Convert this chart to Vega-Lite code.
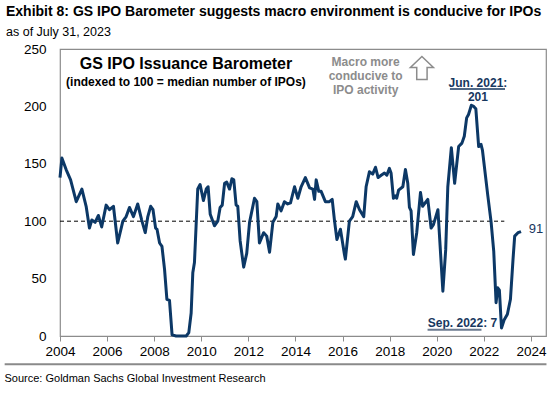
{
  "$schema": "https://vega.github.io/schema/vega-lite/v6.json",
  "width": 486,
  "height": 287,
  "autosize": {"type": "none"},
  "padding": {"left": 60, "top": 49, "right": 12, "bottom": 62},
  "background": "white",
  "config": {"font": "Liberation Sans", "view": {"stroke": "#8c8c8c", "strokeWidth": 1.2}},
  "title": {
    "text": "Exhibit 8: GS IPO Barometer suggests macro environment is conducive for IPOs",
    "subtitle": "as of July 31, 2023",
    "anchor": "start",
    "frame": "group",
    "dx": -54,
    "fontSize": 14,
    "fontWeight": "bold",
    "color": "black",
    "subtitleFontSize": 12.5,
    "subtitleColor": "black",
    "subtitlePadding": 7,
    "offset": 4
  },
  "datasets": {
    "ipo": [
      {"t":2004.00,"v":138},{"t":2004.08,"v":155},{"t":2004.26,"v":145},{"t":2004.45,"v":136},{"t":2004.69,"v":117},{"t":2004.93,"v":128},{"t":2005.11,"v":113},{"t":2005.25,"v":94},{"t":2005.35,"v":101},{"t":2005.49,"v":99},{"t":2005.63,"v":105},{"t":2005.77,"v":95},{"t":2005.96,"v":114},{"t":2006.10,"v":110},{"t":2006.27,"v":113},{"t":2006.45,"v":81},{"t":2006.67,"v":100},{"t":2006.81,"v":104},{"t":2006.95,"v":112},{"t":2007.12,"v":104},{"t":2007.30,"v":115},{"t":2007.47,"v":101},{"t":2007.62,"v":90},{"t":2007.73,"v":104},{"t":2007.85,"v":113},{"t":2007.95,"v":110},{"t":2008.06,"v":94},{"t":2008.12,"v":93},{"t":2008.23,"v":81},{"t":2008.33,"v":78},{"t":2008.44,"v":58},{"t":2008.54,"v":32},{"t":2008.65,"v":31},{"t":2008.76,"v":1},{"t":2008.93,"v":0},{"t":2009.36,"v":0},{"t":2009.47,"v":3},{"t":2009.57,"v":20},{"t":2009.64,"v":55},{"t":2009.71,"v":64},{"t":2009.78,"v":96},{"t":2009.85,"v":128},{"t":2009.95,"v":132},{"t":2010.09,"v":118},{"t":2010.21,"v":128},{"t":2010.29,"v":130},{"t":2010.38,"v":106},{"t":2010.56,"v":96},{"t":2010.70,"v":100},{"t":2010.80,"v":112},{"t":2010.89,"v":114},{"t":2010.99,"v":133},{"t":2011.08,"v":134},{"t":2011.20,"v":128},{"t":2011.30,"v":137},{"t":2011.38,"v":136},{"t":2011.48,"v":114},{"t":2011.55,"v":113},{"t":2011.65,"v":83},{"t":2011.80,"v":60},{"t":2011.93,"v":72},{"t":2012.05,"v":99},{"t":2012.26,"v":120},{"t":2012.36,"v":117},{"t":2012.47,"v":81},{"t":2012.65,"v":90},{"t":2012.78,"v":87},{"t":2012.90,"v":73},{"t":2013.04,"v":99},{"t":2013.18,"v":104},{"t":2013.25,"v":115},{"t":2013.39,"v":109},{"t":2013.53,"v":117},{"t":2013.67,"v":115},{"t":2013.79,"v":116},{"t":2013.96,"v":130},{"t":2014.10,"v":120},{"t":2014.24,"v":130},{"t":2014.42,"v":138},{"t":2014.60,"v":129},{"t":2014.74,"v":128},{"t":2014.81,"v":119},{"t":2014.88,"v":136},{"t":2014.99,"v":126},{"t":2015.09,"v":126},{"t":2015.27,"v":117},{"t":2015.44,"v":117},{"t":2015.56,"v":119},{"t":2015.66,"v":100},{"t":2015.76,"v":84},{"t":2015.91,"v":93},{"t":2016.08,"v":71},{"t":2016.12,"v":67},{"t":2016.29,"v":100},{"t":2016.43,"v":104},{"t":2016.58,"v":117},{"t":2016.72,"v":110},{"t":2016.90,"v":104},{"t":2017.00,"v":130},{"t":2017.14,"v":143},{"t":2017.28,"v":141},{"t":2017.40,"v":147},{"t":2017.51,"v":138},{"t":2017.64,"v":140},{"t":2017.78,"v":142},{"t":2017.88,"v":140},{"t":2017.99,"v":146},{"t":2018.06,"v":142},{"t":2018.16,"v":120},{"t":2018.24,"v":122},{"t":2018.30,"v":120},{"t":2018.38,"v":127},{"t":2018.56,"v":130},{"t":2018.67,"v":145},{"t":2018.77,"v":133},{"t":2018.84,"v":112},{"t":2018.91,"v":109},{"t":2019.01,"v":71},{"t":2019.15,"v":90},{"t":2019.31,"v":125},{"t":2019.40,"v":113},{"t":2019.62,"v":119},{"t":2019.76,"v":94},{"t":2019.86,"v":97},{"t":2020.05,"v":110},{"t":2020.26,"v":39},{"t":2020.38,"v":75},{"t":2020.47,"v":130},{"t":2020.62,"v":164},{"t":2020.76,"v":133},{"t":2020.93,"v":165},{"t":2021.07,"v":168},{"t":2021.17,"v":174},{"t":2021.27,"v":190},{"t":2021.35,"v":193},{"t":2021.41,"v":197},{"t":2021.47,"v":201},{"t":2021.57,"v":200},{"t":2021.66,"v":198},{"t":2021.78,"v":165},{"t":2021.88,"v":167},{"t":2021.94,"v":162},{"t":2022.17,"v":122},{"t":2022.31,"v":99},{"t":2022.42,"v":74},{"t":2022.52,"v":29},{"t":2022.59,"v":42},{"t":2022.66,"v":40},{"t":2022.75,"v":7},{"t":2022.86,"v":14},{"t":2023.00,"v":19},{"t":2023.13,"v":32},{"t":2023.24,"v":67},{"t":2023.31,"v":87},{"t":2023.45,"v":90},{"t":2023.58,"v":91}
    ],
    "one": [{}]
  },
  "layer": [
    {
      "data": {"name": "one"},
      "mark": {"type": "rule", "strokeDash": [4, 3], "color": "black", "strokeWidth": 1},
      "encoding": {
        "x": {
          "datum": 2004,
          "type": "quantitative",
          "scale": {"domain": [2004, 2024.64], "nice": false, "zero": false},
          "axis": {
            "values": [2004, 2006, 2008, 2010, 2012, 2014, 2016, 2018, 2020, 2022, 2024],
            "format": "d",
            "grid": false,
            "domain": false,
            "tickColor": "#8c8c8c",
            "tickSize": 5,
            "labelFontSize": 13.5,
            "labelColor": "black",
            "labelPadding": 3,
            "labelFlush": false,
            "labelOverlap": false,
            "title": "Source: Goldman Sachs Global Investment Research",
            "titleAnchor": "start",
            "titleAlign": "left",
            "titleX": -56,
            "titleY": 45,
            "titleFontSize": 11,
            "titleFontWeight": "normal",
            "titleColor": "black",
            "titleBaseline": "alphabetic"
          }
        },
        "x2": {"datum": 2022.87},
        "y": {
          "datum": 100,
          "type": "quantitative",
          "scale": {"domain": [0, 250], "nice": false},
          "axis": {
            "values": [0, 50, 100, 150, 200, 250],
            "grid": false,
            "domain": false,
            "ticks": false,
            "labelPadding": 14,
            "labelFontSize": 13.5,
            "labelColor": "black",
            "title": null
          }
        }
      }
    },
    {
      "data": {"name": "ipo"},
      "mark": {"type": "line", "color": "#0c3866", "strokeWidth": 3, "strokeJoin": "round"},
      "encoding": {
        "x": {"field": "t", "type": "quantitative"},
        "y": {"field": "v", "type": "quantitative"}
      }
    },
    {
      "data": {"name": "one"},
      "mark": {"type": "text", "text": "GS IPO Issuance Barometer", "fontSize": 16, "fontWeight": "bold", "color": "black", "align": "center", "baseline": "middle"},
      "encoding": {"x": {"datum": 2009.35}, "y": {"datum": 236.5}}
    },
    {
      "data": {"name": "one"},
      "mark": {"type": "text", "text": "(indexed to 100 = median number of IPOs)", "fontSize": 12, "fontWeight": "bold", "color": "black", "align": "center", "baseline": "middle"},
      "encoding": {"x": {"datum": 2009.35}, "y": {"datum": 221.1}}
    },
    {
      "data": {"name": "one"},
      "mark": {"type": "text", "text": ["Macro more", "conducive to", "IPO activity"], "fontSize": 12, "fontWeight": "bold", "color": "#8c8c8c", "align": "center", "baseline": "middle", "lineHeight": 14},
      "encoding": {"x": {"datum": 2016.98}, "y": {"datum": 239.1}}
    },
    {
      "data": {"name": "one"},
      "mark": {"type": "point", "shape": "M0,-1 L1,-0.05 L0.45,-0.05 L0.45,1 L-0.45,1 L-0.45,-0.05 L-1,-0.05 Z", "filled": false, "stroke": "#8c8c8c", "strokeWidth": 1.5, "size": 530, "opacity": 1},
      "encoding": {"x": {"datum": 2019.37}, "y": {"datum": 233.4}}
    },
    {
      "data": {"name": "one"},
      "mark": {"type": "text", "text": "Jun. 2021:", "fontSize": 12, "fontWeight": "bold", "color": "#17375e", "align": "center", "baseline": "middle"},
      "encoding": {"x": {"datum": 2021.75}, "y": {"datum": 220.8}}
    },
    {
      "data": {"name": "one"},
      "mark": {"type": "rule", "color": "#17375e", "strokeWidth": 1.5},
      "encoding": {"x": {"datum": 2020.56}, "x2": {"datum": 2022.9}, "y": {"datum": 215.1}}
    },
    {
      "data": {"name": "one"},
      "mark": {"type": "text", "text": "201", "fontSize": 12, "fontWeight": "bold", "color": "#17375e", "align": "center", "baseline": "middle"},
      "encoding": {"x": {"datum": 2021.75}, "y": {"datum": 208.6}}
    },
    {
      "data": {"name": "one"},
      "mark": {"type": "text", "text": "Sep. 2022: 7", "fontSize": 12, "fontWeight": "bold", "color": "#17375e", "align": "left", "baseline": "middle"},
      "encoding": {"x": {"datum": 2019.62}, "y": {"datum": 10.9}}
    },
    {
      "data": {"name": "one"},
      "mark": {"type": "rule", "color": "#6b7a8f", "strokeWidth": 2},
      "encoding": {"x": {"datum": 2019.61}, "x2": {"datum": 2021.9}, "y": {"datum": 5.5}}
    },
    {
      "data": {"name": "one"},
      "mark": {"type": "text", "text": "91", "fontSize": 13, "color": "#17375e", "align": "left", "baseline": "middle"},
      "encoding": {"x": {"datum": 2023.91}, "y": {"datum": 93.6}}
    },
    {
      "data": {"name": "one"},
      "mark": {"type": "rule", "color": "#8a8a8a", "strokeWidth": 2, "clip": false},
      "encoding": {"x": {"datum": 2001.65, "type": "quantitative"}, "x2": {"datum": 2024.66}, "y": {"datum": -24.5, "type": "quantitative"}}
    }
  ]
}
